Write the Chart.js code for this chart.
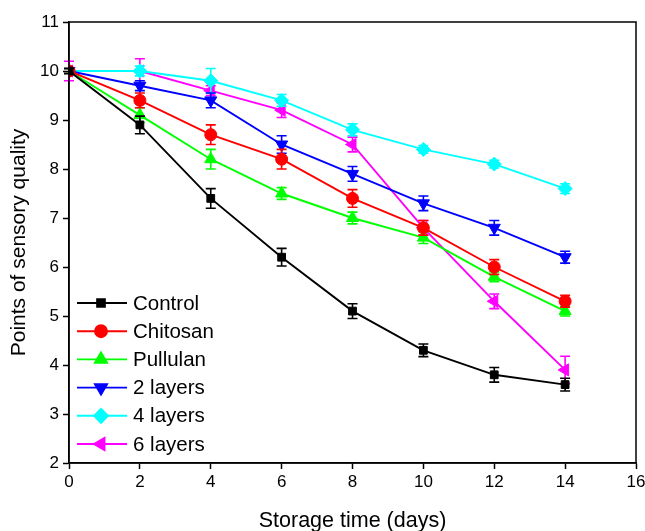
<!DOCTYPE html>
<html>
<head>
<meta charset="utf-8">
<script src="https://cdn.jsdelivr.net/npm/chart.js@4"></script>
<style>
  html, body { margin: 0; padding: 0; background: #fff; }
  #wrap { width: 645px; height: 531px; }
</style>
</head>
<body>
<div id="wrap"><canvas id="chart" width="645" height="531"></canvas></div>
<script>
const days = [0, 2, 4, 6, 8, 10, 12, 14];

const seriesNames = ['Control', 'Chitosan', 'Pullulan', '2 layers', '4 layers', '6 layers'];
const control  = [10, 8.9, 7.4, 6.2, 5.1, 4.3, 3.8, 3.6];
const chitosan = [10, 9.4, 8.7, 8.2, 7.4, 6.8, 6.0, 5.3];
const pullulan = [10, 9.1, 8.2, 7.5, 7.0, 6.6, 5.8, 5.1];
const layers2  = [10, 9.7, 9.4, 8.5, 7.9, 7.3, 6.8, 6.2];
const layers4  = [10, 10, 9.8, 9.4, 8.8, 8.4, 8.1, 7.6];
const layers6  = [10, 10, 9.6, 9.2, 8.5, 6.8, 5.3, 3.9];

// standard deviations (error bars)
const controlErr  = [0.05, 0.18, 0.2, 0.18, 0.15, 0.13, 0.15, 0.13];
const chitosanErr = [0.05, 0.15, 0.2, 0.2, 0.18, 0.15, 0.15, 0.12];
const pullulanErr = [0.05, 0.15, 0.2, 0.12, 0.12, 0.12, 0.1, 0.1];
const layers2Err  = [0.05, 0.1, 0.15, 0.18, 0.15, 0.15, 0.15, 0.12];
const layers4Err  = [0.05, 0.1, 0.25, 0.12, 0.12, 0.08, 0.08, 0.1];
const layers6Err  = [0.2, 0.25, 0.1, 0.15, 0.15, 0.15, 0.15, 0.28];

const xTicks = [0, 2, 4, 6, 8, 10, 12, 14, 16];
const yTicks = [2, 3, 4, 5, 6, 7, 8, 9, 10, 11];

const colors = ['#000000', '#ff0000', '#00ff00', '#0000ff', '#00ffff', '#ff00ff'];
const markers = [
  { style: 'rect', rotation: 0, radius: 5.5 },
  { style: 'circle', rotation: 0, radius: 6 },
  { style: 'triangle', rotation: 0, radius: 7 },
  { style: 'triangle', rotation: 180, radius: 7 },
  { style: 'rectRot', rotation: 0, radius: 7 },
  { style: 'triangle', rotation: 270, radius: 7 }
];

const values = [control, chitosan, pullulan, layers2, layers4, layers6];
const errors = [controlErr, chitosanErr, pullulanErr, layers2Err, layers4Err, layers6Err];

const FONT = '"Liberation Sans", Arial, sans-serif';

const datasets = seriesNames.map((name, i) => ({
  label: name,
  data: days.map((d, j) => ({ x: d, y: values[i][j] })),
  errors: errors[i],
  borderColor: colors[i],
  backgroundColor: colors[i],
  borderWidth: 1.9,
  pointStyle: markers[i].style,
  pointRotation: markers[i].rotation,
  pointRadius: markers[i].radius,
  pointHoverRadius: markers[i].radius,
  pointBorderWidth: 1,
  tension: 0,
  fill: false
}));

const errorBars = {
  id: 'errorBars',
  afterDatasetDraw(chart, args) {
    const ds = chart.data.datasets[args.index];
    const xs = chart.scales.x, ys = chart.scales.y;
    const c = chart.ctx;
    c.save();
    c.strokeStyle = ds.borderColor;
    c.lineWidth = 1.6;
    ds.data.forEach((p, j) => {
      const e = ds.errors[j];
      const px = xs.getPixelForValue(p.x);
      const top = ys.getPixelForValue(p.y + e);
      const bot = ys.getPixelForValue(p.y - e);
      c.beginPath();
      c.moveTo(px, top); c.lineTo(px, bot);
      c.moveTo(px - 5, top); c.lineTo(px + 5, top);
      c.moveTo(px - 5, bot); c.lineTo(px + 5, bot);
      c.stroke();
    });
    c.restore();
  }
};

const frameAndLegend = {
  id: 'frameAndLegend',
  afterDraw(chart) {
    const c = chart.ctx;
    const a = chart.chartArea;
    c.save();
    c.strokeStyle = '#000';
    c.lineWidth = 1.5;
    c.strokeRect(a.left, a.top, a.right - a.left, a.bottom - a.top);

    // legend inside the plot, lower left
    const x0 = 77, x1 = 127, xm = 101, xt = 133;
    const y0 = 303, step = 28.2;
    c.font = '20.5px ' + FONT;
    c.textBaseline = 'middle';
    chart.data.datasets.forEach((ds, i) => {
      const y = y0 + i * step;
      c.strokeStyle = ds.borderColor;
      c.lineWidth = 1.9;
      c.beginPath(); c.moveTo(x0, y); c.lineTo(x1, y); c.stroke();
      c.fillStyle = ds.backgroundColor;
      Chart.helpers.drawPoint(c, {
        pointStyle: ds.pointStyle,
        rotation: ds.pointRotation,
        radius: ds.pointRadius,
        borderWidth: 1
      }, xm, y);
      c.fillStyle = '#000';
      c.fillText(ds.label, xt, y + 1);
    });
    c.restore();
  }
};

new Chart(document.getElementById('chart'), {
  type: 'line',
  data: { datasets },
  plugins: [errorBars, frameAndLegend],
  options: {
    responsive: false,
    animation: false,
    layout: { padding: { left: 0, right: 9, top: 22, bottom: 0 } },
    plugins: { legend: { display: false }, tooltip: { enabled: false } },
    scales: {
      x: {
        type: 'linear',
        min: 0, max: 16,
        afterBuildTicks(s) { s.ticks = xTicks.map(v => ({ value: v })); },
        afterFit(s) { s.height = 68; s.paddingRight = 0; s.paddingLeft = 0; },
        ticks: { color: '#000', font: { family: FONT, size: 17 }, padding: 3, maxRotation: 0 },
        grid: { drawOnChartArea: false, drawTicks: true, tickLength: 6, tickColor: '#000', tickWidth: 1.5 },
        border: { display: true, color: '#000', width: 1.5 },
        title: { display: true, text: 'Storage time (days)', color: '#000', font: { family: FONT, size: 21.5 }, padding: { top: 8, bottom: -3 } }
      },
      y: {
        min: 2, max: 11,
        afterBuildTicks(s) { s.ticks = yTicks.map(v => ({ value: v })); },
        afterFit(s) { s.width = 69; s.paddingTop = 0; s.paddingBottom = 0; },
        ticks: { color: '#000', font: { family: FONT, size: 17 }, padding: 4 },
        grid: { drawOnChartArea: false, drawTicks: true, tickLength: 6, tickColor: '#000', tickWidth: 1.5 },
        border: { display: true, color: '#000', width: 1.5 },
        title: { display: true, text: 'Points of sensory quality', color: '#000', font: { family: FONT, size: 21 }, padding: { top: 7, bottom: 4 } }
      }
    }
  }
});
</script>
</body>
</html>
